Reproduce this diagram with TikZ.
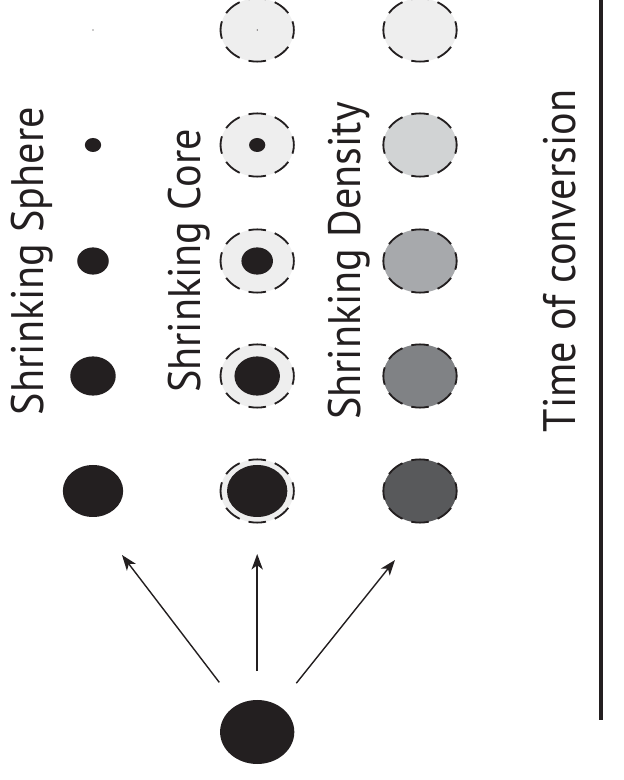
\documentclass[tikz,border=0pt]{standalone}
\usepackage{fontspec}
\setmainfont{PT Sans}
\usetikzlibrary{shapes.geometric,arrows.meta}
\definecolor{ink}{RGB}{35,31,32}
\definecolor{shell}{RGB}{238,238,238}
\definecolor{grayA}{RGB}{209,211,212}
\definecolor{grayB}{RGB}{167,169,172}
\definecolor{grayC}{RGB}{128,130,133}
\definecolor{grayD}{RGB}{88,89,91}
\tikzset{
    blob/.style = {ellipse, fill = ink, inner sep = 0pt, outer sep = 0pt, minimum height = 2*#1, minimum width = 2.32*#1},
    shellring/.style = {blob = 0.79cm, fill = #1, draw = ink, line width = 1.3pt, dash pattern = on 12.5pt off 6.59pt, dash phase = 6.25pt},
    lbl/.style = {rotate = 90, yscale = 1.08, anchor = base, text = ink, font = \fontsize{30}{34}\selectfont}
}

\begin{document}
\begin{tikzpicture}[>={Stealth[length=11pt, width=8pt, inset=3pt]}]
            \useasboundingbox (0,0) rectangle (15.6,19.5);
            \node[lbl] (sphere) at (1.075,12.975) {Shrinking Sphere};
            \node[lbl] (core) at (5.0,12.975) {Shrinking Core};
            \node[lbl] (density) at (9.0,12.975) {Shrinking Density};
            \node[lbl] (time) at (14.375,12.975) {Time of conversion};
            \draw[ink, line width = 2.8pt] (15.025,1.5) -- (15.025,19.6);
            \node[blob = 0.015cm] (s1) at (2.325,18.75) {};
            \node[blob = 0.175cm] (s2) at (2.325,15.875) {};
            \node[blob = 0.34cm] (s3) at (2.325,12.975) {};
            \node[blob = 0.49cm] (s4) at (2.325,10.1) {};
            \node[blob = 0.65cm] (s5) at (2.325,7.225) {};
            \node[shellring = shell] (c1) at (6.43,18.75) {};
            \node[shellring = shell] (c2) at (6.43,15.875) {};
            \node[shellring = shell] (c3) at (6.43,12.975) {};
            \node[shellring = shell] (c4) at (6.43,10.1) {};
            \node[shellring = shell] (c5) at (6.43,7.225) {};
            \node[blob = 0.015cm] (c1core) at (c1) {};
            \node[blob = 0.175cm] (c2core) at (c2) {};
            \node[blob = 0.34cm] (c3core) at (c3) {};
            \node[blob = 0.49cm] (c4core) at (c4) {};
            \node[blob = 0.65cm] (c5core) at (c5) {};
            \node[shellring = shell] (d1) at (10.5,18.75) {};
            \node[shellring = grayA] (d2) at (10.5,15.875) {};
            \node[shellring = grayB] (d3) at (10.5,12.975) {};
            \node[shellring = grayC] (d4) at (10.5,10.1) {};
            \node[shellring = grayD] (d5) at (10.5,7.225) {};
            \node[blob = 0.8cm] (src) at (6.43,1.2) {};
            \coordinate (tipS) at (3.05,5.625);
            \coordinate (tipC) at (6.43,5.65);
            \coordinate (tipD) at (9.875,5.5);
            \draw[->, ink, line width = 1pt, shorten <= 0.72cm] (src) -- (tipS);
            \draw[->, ink, line width = 1pt, shorten <= 0.72cm] (src) -- (tipC);
            \draw[->, ink, line width = 1pt, shorten <= 0.72cm] (src) -- (tipD);
\end{tikzpicture}
\end{document}
